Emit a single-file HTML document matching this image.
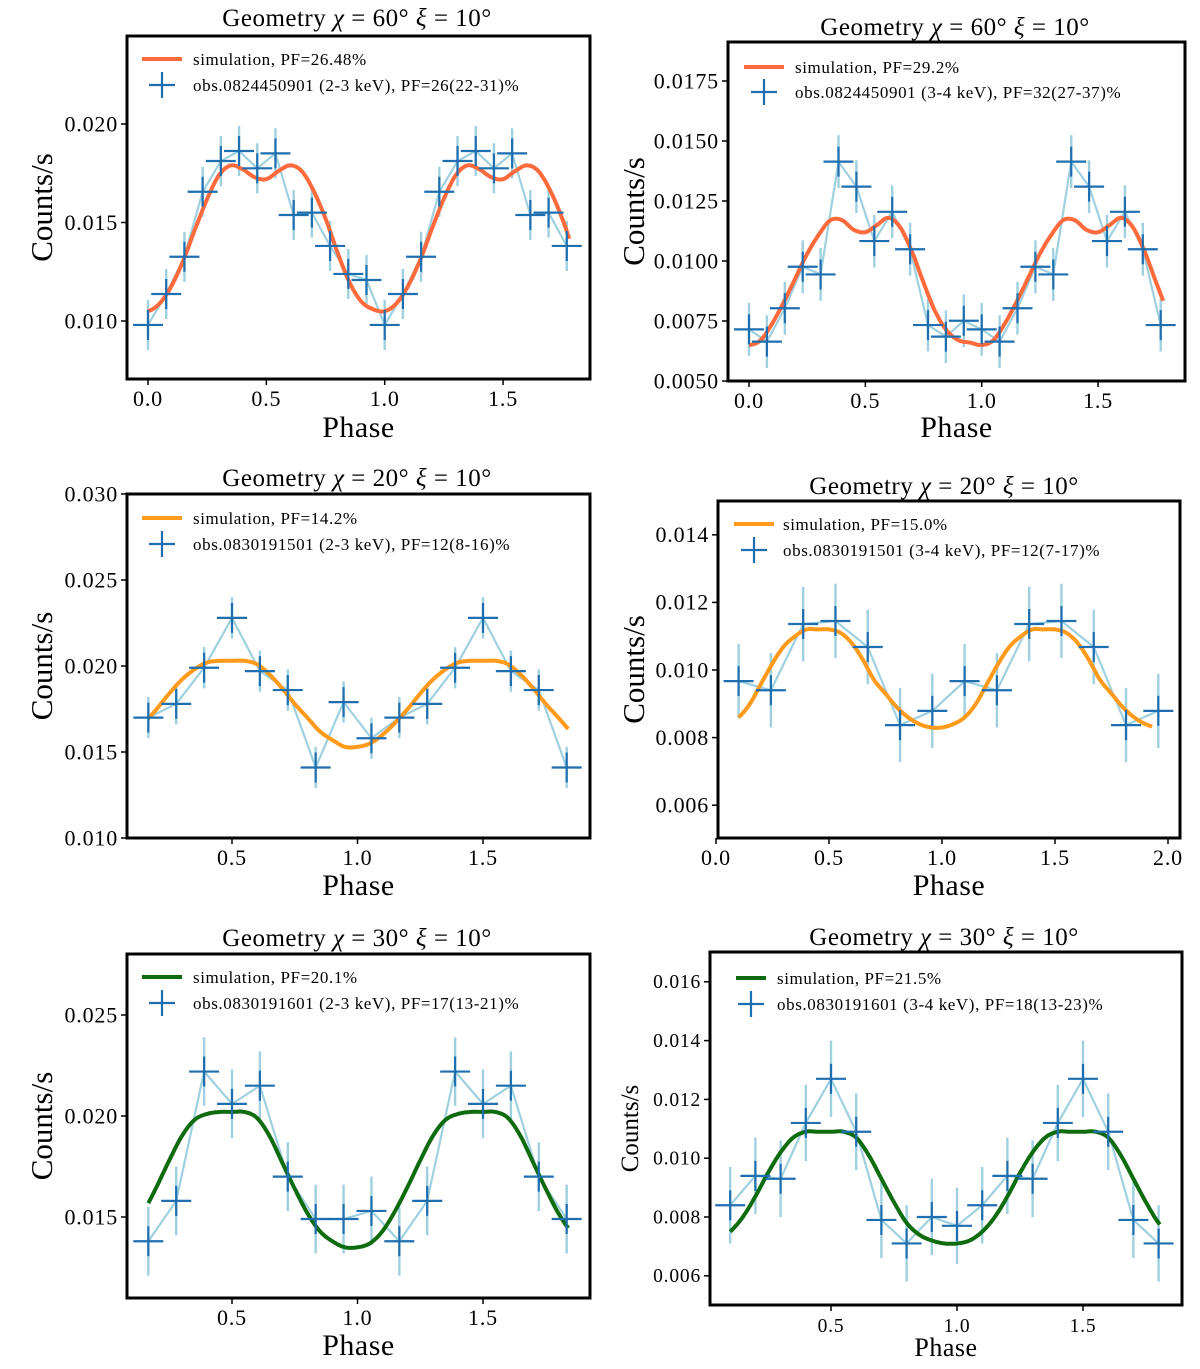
<!DOCTYPE html>
<html><head><meta charset="utf-8"><style>
html,body{margin:0;padding:0;background:#fff;}
svg{display:block;font-family:"Liberation Serif",serif;}
</style></head><body>
<svg id="fig" width="1200" height="1369" viewBox="0 0 1200 1369" xmlns="http://www.w3.org/2000/svg"></svg>
<script>
// ---- Panel 1 (60°, 2-3 keV) ----
const p1Obs = [0.0098,0.01137,0.01326,0.01656,0.01812,0.01863,0.01775,0.01851,0.01538,0.0155,0.01381,0.01239,0.01208];
const p1Model = [0.0105,0.0109,0.0118,0.0131,0.0147,0.0162,0.0174,0.0179,0.0177,0.0173,0.0172,0.0176,0.0179,0.0176,0.0166,0.0152,0.0135,0.0120,0.0110,0.0106];
const p1YTicks = [0.010,0.015,0.020];
const p1XTicks = [0.0,0.5,1.0,1.5];
// ---- Panel 2 (60°, 3-4 keV) ----
const p2Obs = [0.00715,0.00664,0.00803,0.00976,0.00944,0.01414,0.0131,0.01083,0.01205,0.01049,0.00733,0.00685,0.00751];
const p2Model = [0.0065,0.0067,0.0074,0.0083,0.0093,0.0103,0.0111,0.0117,0.0117,0.0113,0.0112,0.0115,0.0118,0.0114,0.0104,0.0091,0.0079,0.0071,0.0067,0.0066];
const p2YTicks = [0.0050,0.0075,0.0100,0.0125,0.0150,0.0175];
const p2XTicks = [0.0,0.5,1.0,1.5];
// ---- Panel 3 (20°, 2-3 keV) ----
const p3Obs = [0.0170,0.0178,0.0199,0.0228,0.0197,0.0186,0.0141,0.0179,0.0158];
const p3Model = [0.0153,0.0155,0.0160,0.0167,0.0175,0.0184,0.0192,0.0198,0.0202,0.0203,0.0203,0.0203,0.0201,0.0195,0.0187,0.0178,0.0170,0.0162,0.0157,0.0153];
const p3YTicks = [0.010,0.015,0.020,0.025,0.030];
const p3XTicks = [0.5,1.0,1.5];
// ---- Panel 4 (20°, 3-4 keV) ----
const p4Obs = [0.00967,0.0094,0.01136,0.01145,0.01068,0.00837,0.00879];
const p4Model = [0.0083,0.0084,0.0086,0.0090,0.0096,0.0102,0.0107,0.0110,0.0112,0.0112,0.0112,0.0111,0.0108,0.0103,0.0097,0.0093,0.0089,0.0086,0.0084,0.0083];
const p4YTicks = [0.006,0.008,0.010,0.012,0.014];
const p4XTicks = [0.0,0.5,1.0,1.5,2.0];
// ---- Panel 5 (30°, 2-3 keV) ----
const p5Obs = [0.0138,0.0158,0.0222,0.0206,0.0215,0.0170,0.0149,0.0149,0.0153];
const p5Model = [0.0135,0.0137,0.0143,0.0153,0.0165,0.0178,0.0190,0.0198,0.0201,0.0202,0.0202,0.0202,0.0199,0.0190,0.0177,0.0164,0.0152,0.0143,0.0138,0.0135];
const p5YTicks = [0.015,0.020,0.025];
const p5XTicks = [0.5,1.0,1.5];
// ---- Panel 6 (30°, 3-4 keV) ----
const p6Obs = [0.0084,0.0094,0.0093,0.0112,0.0127,0.0109,0.0079,0.0071,0.0080,0.0077];
const p6Model = [0.0071,0.0072,0.0075,0.0080,0.0087,0.0095,0.0102,0.0107,0.0109,0.0109,0.0109,0.0109,0.0107,0.0101,0.0093,0.0085,0.0078,0.0074,0.0072,0.0071];
const p6YTicks = [0.006,0.008,0.010,0.012,0.014,0.016];
const p6XTicks = [0.5,1.0,1.5];

const NS='http://www.w3.org/2000/svg';
const svg=document.getElementById('fig');
function mk(tag,attrs,parent){const e=document.createElementNS(NS,tag);for(const k in attrs)e.setAttribute(k,attrs[k]);(parent||svg).appendChild(e);return e;}

const panels=[
 {obs:p1Obs,model:p1Model,yt:p1YTicks,xt:p1XTicks,dec:3,box:[127,36,590,379],x0:0,xpx0:148,xs:236.7,y0:0.010,ypx0:321,ys:19700,start:0,n:24,end:1.78,err:0.00127,col:'#ff6a3d',chi:'60',tx:357,ty:26,leg:[59,85],lx:[142,182,193],sim:'simulation, PF=26.48%',ob:'obs.0824450901 (2-3 keV), PF=26(22-31)%',xlab:437,ylx:42,tf:22,lf:31,xf:30},
 {obs:p2Obs,model:p2Model,yt:p2YTicks,xt:p2XTicks,dec:4,box:[728,42,1185,381],x0:0,xpx0:749,xs:232.7,y0:0.005,ypx0:381,ys:24000,start:0,n:24,end:1.78,err:0.0011,col:'#ff6a3d',chi:'60',tx:955,ty:35,leg:[67,92],lx:[744,784,795],sim:'simulation, PF=29.2%',ob:'obs.0824450901 (3-4 keV), PF=32(27-37)%',xlab:437,ylx:634,tf:22,lf:31,xf:30},
 {obs:p3Obs,model:p3Model,yt:p3YTicks,xt:p3XTicks,dec:3,box:[127,494,590,838],x0:0.5,xpx0:232,xs:251,y0:0.010,ypx0:838,ys:17200,start:1/6,n:16,end:1.84,err:0.0012,col:'#ff9a1a',chi:'20',tx:357,ty:486,leg:[518,544],lx:[142,182,193],sim:'simulation, PF=14.2%',ob:'obs.0830191501 (2-3 keV), PF=12(8-16)%',xlab:895,ylx:42,tf:22,lf:31,xf:30},
 {obs:p4Obs,model:p4Model,yt:p4YTicks,xt:p4XTicks,dec:3,box:[718,501,1180,838],x0:0,xpx0:716,xs:226,y0:0.010,ypx0:670,ys:33800,start:0.1,n:14,end:1.93,err:0.0011,col:'#ff9a1a',chi:'20',tx:944,ty:494,leg:[524,550],lx:[734,774,783],sim:'simulation, PF=15.0%',ob:'obs.0830191501 (3-4 keV), PF=12(7-17)%',xlab:895,ylx:634,tf:22,lf:31,xf:30},
 {obs:p5Obs,model:p5Model,yt:p5YTicks,xt:p5XTicks,dec:3,box:[127,954,590,1298],x0:0.5,xpx0:232,xs:251,y0:0.015,ypx0:1217,ys:20200,start:1/6,n:16,end:1.84,err:0.0017,col:'#0e6b0e',chi:'30',tx:357,ty:946,leg:[977,1003],lx:[142,182,193],sim:'simulation, PF=20.1%',ob:'obs.0830191601 (2-3 keV), PF=17(13-21)%',xlab:1355,ylx:42,tf:22,lf:31,xf:30},
 {obs:p6Obs,model:p6Model,yt:p6YTicks,xt:p6XTicks,dec:3,box:[710,952,1182,1305],x0:0.5,xpx0:831,xs:252,y0:0.008,ypx0:1217,ys:29400,start:0.1,n:18,end:1.805,err:0.0013,col:'#0e6b0e',chi:'30',tx:944,ty:945,leg:[978,1004],lx:[736,766,777],sim:'simulation, PF=21.5%',ob:'obs.0830191601 (3-4 keV), PF=18(13-23)%',xlab:1356,ylx:630,tf:19.5,lf:25,xf:26}
];

function modelAt(m,p){
  const N=m.length;let f=((p%1)+1)%1*N;const i=Math.floor(f);const t=f-i;
  const a=m[(i-1+N)%N],b=m[i%N],c=m[(i+1)%N],d=m[(i+2)%N];
  return 0.5*((2*b)+(-a+c)*t+(2*a-5*b+4*c-d)*t*t+(-a+3*b-3*c+d)*t*t*t);
}

panels.forEach((P,pi)=>{
  const g=mk('g',{});
  
  
  const X=v=>P.xpx0+(v-P.x0)*P.xs;
  const Y=v=>P.ypx0-(v-P.y0)*P.ys;
  const [L,T,R,B]=P.box;
  const clipId='clip'+pi;
  const cp=mk('clipPath',{id:clipId},g);mk('rect',{x:L,y:T,width:R-L,height:B-T},cp);
  P.yt.forEach(v=>{const y=Y(v);
    const tk=mk('line',{x1:L-6,x2:L,y1:y,y2:y,stroke:'#000','stroke-width':1.5},g);
    
    
    const t=mk('text',{x:L-9,y:y+P.tf*0.33,'text-anchor':'end','font-size':P.tf,'letter-spacing':0.8},g);t.textContent=v.toFixed(P.dec);
    
    
  });
  P.xt.forEach(v=>{const x=X(v);
    const tk=mk('line',{x1:x,x2:x,y1:B,y2:B+6,stroke:'#000','stroke-width':1.5},g);
    
    
    const t=mk('text',{x:x,y:B+27,'text-anchor':'middle','font-size':P.tf,'letter-spacing':0.8},g);t.textContent=v.toFixed(1);
    
    
  });
  const plot=mk('g',{'clip-path':'url(#'+clipId+')'},g);
  
  
  const pts=[];
  for(let k=0;k<P.n;k++){const ph=P.start+k/P.obs.length;pts.push([ph,P.obs[k%P.obs.length]]);}
  const conn=mk('polyline',{points:pts.map(p=>X(p[0])+','+Y(p[1])).join(' '),fill:'none',stroke:'#9fd0e0','stroke-width':2.2},plot);
  
  
  pts.forEach(p=>{const x=X(p[0]);
    const e=mk('line',{x1:x,x2:x,y1:Y(p[1]+P.err),y2:Y(p[1]-P.err),stroke:'#9fd0e0','stroke-width':2.4},plot);
    
    
  });
  let d='';for(let i=0;i<=300;i++){const ph=P.start;const p=ph+(P.end-ph)*i/300;d+=(i?'L':'M')+X(p).toFixed(1)+','+Y(modelAt(P.model,p)).toFixed(1);}
  const ml=mk('path',{d:d,fill:'none',stroke:P.col,'stroke-width':4},plot);
  
  
  pts.forEach(p=>{const x=X(p[0]),y=Y(p[1]);
    const c=mk('path',{d:`M${x-15},${y}H${x+15}M${x},${y-15}V${y+15}`,stroke:'#1f6fb0','stroke-width':2.2,fill:'none'},plot);
    
    
  });
  const box=mk('rect',{x:L,y:T,width:R-L,height:B-T,fill:'none',stroke:'#000','stroke-width':3},g);
  
  
  const lg=mk('g',{},g);
  
  
  mk('line',{x1:P.lx[0],x2:P.lx[1],y1:P.leg[0],y2:P.leg[0],stroke:P.col,'stroke-width':4},lg);
  const t1=mk('text',{x:P.lx[2],y:P.leg[0]+6,'font-size':17,'letter-spacing':0.6},lg);t1.textContent=P.sim;
  
  
  const cx=(P.lx[0]+P.lx[1])/2,cy=P.leg[1];
  mk('path',{d:`M${cx-13},${cy}H${cx+13}M${cx},${cy-13}V${cy+13}`,stroke:'#1f6fb0','stroke-width':2.2},lg);
  const t2=mk('text',{x:P.lx[2],y:P.leg[1]+6,'font-size':17,'letter-spacing':0.6},lg);t2.textContent=P.ob;
  
  
  const tt=mk('text',{x:P.tx,y:P.ty,'text-anchor':'middle','font-size':25,'letter-spacing':0.5},g);
  tt.innerHTML='Geometry <tspan font-style="italic">χ</tspan> = '+P.chi+'° <tspan font-style="italic">ξ</tspan> = 10°';
  
  
  const xl=mk('text',{x:(L+R)/2,y:P.xlab,'text-anchor':'middle','font-size':P.xf,'letter-spacing':0.5},g);xl.textContent='Phase';
  
  
  const ym=(T+B)/2;
  const yl=mk('text',{x:P.ylx,y:ym,'text-anchor':'middle','font-size':P.lf,transform:`rotate(-90 ${P.ylx} ${ym})`,dy:P.lf*0.32},g);yl.textContent='Counts/s';
  
  
});
</script>
</body></html>
